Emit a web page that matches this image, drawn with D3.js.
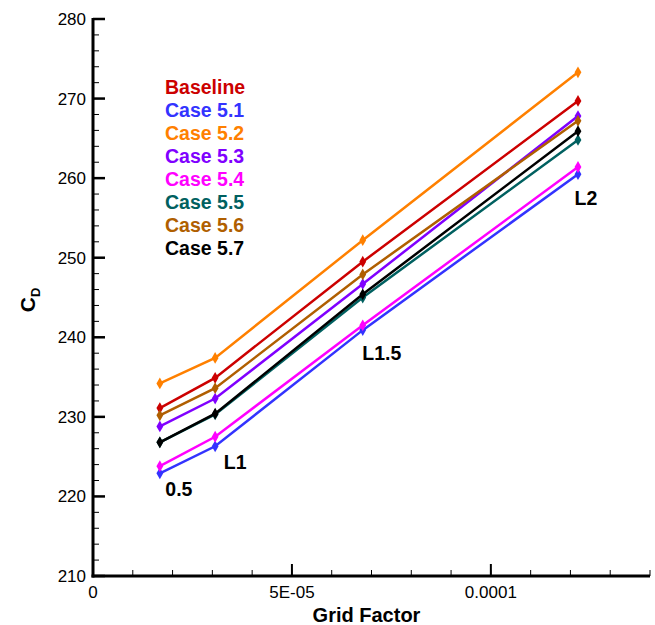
<!DOCTYPE html>
<html><head><meta charset="utf-8">
<script src="https://cdn.jsdelivr.net/npm/d3@7/dist/d3.min.js"></script>
<style>body{margin:0;background:#fff}svg{display:block}text{font-family:"Liberation Sans",Arial,sans-serif}</style>
</head><body><svg id="c" width="655" height="625"></svg>
<script>
const gridFactor = [0.0000168, 0.0000307, 0.0000678, 0.0001219];
const pointLabels = ["0.5", "L1", "L1.5", "L2"];
const seriesNames = ["Baseline","Case 5.1","Case 5.2","Case 5.3","Case 5.4","Case 5.5","Case 5.6","Case 5.7"];
const baseline = [231.1, 234.9, 249.5, 269.7];
const case51 = [222.9, 226.3, 240.9, 260.5];
const case52 = [234.2, 237.4, 252.2, 273.3];
const case53 = [228.8, 232.3, 246.7, 267.8];
const case54 = [223.8, 227.5, 241.5, 261.4];
const case55 = [226.8, 230.3, 245.0, 264.8];
const case56 = [230.2, 233.6, 247.9, 267.2];
const case57 = [226.8, 230.4, 245.4, 265.9];
const seriesColors = ["#CC0000","#3333FF","#FF8000","#8000FF","#FF00FF","#006060","#B05F00","#000000"];
const xTicks = [0, 0.00005, 0.0001];
const xTickLabels = ["0", "5E-05", "0.0001"];
const yTicks = [210, 220, 230, 240, 250, 260, 270, 280];

const allSeries = [baseline, case51, case52, case53, case54, case55, case56, case57];
const svg = d3.select("#c");
const L = 93, R = 650, T = 19, B = 576;
const x = d3.scaleLinear().domain([0, 0.00014]).range([L, R]);
const y = d3.scaleLinear().domain([210, 280]).range([B, T]);

const xMinor = d3.range(0, 0.000140001, 0.00001);
const yMinor = d3.range(210, 280.001, 2);
const g = svg.append("g");
g.selectAll(".xm").data(xMinor).enter().append("line")
  .attr("x1", d => x(d)).attr("x2", d => x(d)).attr("y1", B).attr("y2", B - 6)
  .attr("stroke", "#000").attr("stroke-width", 1);
g.selectAll(".ym").data(yMinor).enter().append("line")
  .attr("y1", d => y(d)).attr("y2", d => y(d)).attr("x1", L).attr("x2", L + 6)
  .attr("stroke", "#000").attr("stroke-width", 1);
g.selectAll(".xM").data(xTicks).enter().append("line")
  .attr("x1", d => x(d)).attr("x2", d => x(d)).attr("y1", B).attr("y2", B - 12)
  .attr("stroke", "#000").attr("stroke-width", 2);
g.selectAll(".yM").data(yTicks).enter().append("line")
  .attr("y1", d => y(d)).attr("y2", d => y(d)).attr("x1", L).attr("x2", L + 12)
  .attr("stroke", "#000").attr("stroke-width", 2.5);
g.append("line").attr("x1", L).attr("x2", L).attr("y1", T - 1).attr("y2", B + 1.5).attr("stroke", "#000").attr("stroke-width", 3);
g.append("line").attr("x1", L - 1.5).attr("x2", R).attr("y1", B).attr("y2", B).attr("stroke", "#000").attr("stroke-width", 3);

g.selectAll(".xl").data(xTicks).enter().append("text")
  .attr("x", d => x(d)).attr("y", B + 22).attr("text-anchor", "middle")
  .attr("font-size", 17).text((d, i) => xTickLabels[i]);
g.selectAll(".yl").data(yTicks).enter().append("text")
  .attr("x", L - 7).attr("y", d => y(d) + 6).attr("text-anchor", "end")
  .attr("font-size", 17).text(d => d);

svg.append("text").attr("x", (L + R) / 2 - 5).attr("y", 622).attr("text-anchor", "middle")
  .attr("font-size", 20).attr("font-weight", "bold").text("Grid Factor");
const yt = svg.append("text").attr("transform", "translate(35,300) rotate(-90)")
  .attr("text-anchor", "middle").attr("font-size", 21).attr("font-weight", "bold");
yt.append("tspan").text("C");
yt.append("tspan").attr("font-size", 13).attr("dy", 5).text("D");

const line = d3.line().x((d, i) => x(gridFactor[i])).y(d => y(d));
allSeries.forEach((s, k) => {
  svg.append("path").datum(s).attr("d", line).attr("fill", "none")
    .attr("stroke", seriesColors[k]).attr("stroke-width", 2.5);
  svg.selectAll(".m" + k).data(s).enter().append("path")
    .attr("d", d3.symbol(d3.symbolDiamond, 40))
    .attr("transform", (d, i) => `translate(${x(gridFactor[i])},${y(d)})`)
    .attr("fill", seriesColors[k]);
});

seriesNames.forEach((n, k) => {
  svg.append("text").attr("x", 165).attr("y", 94 + k * 23)
    .attr("font-size", 19.5).attr("font-weight", "bold")
    .attr("fill", seriesColors[k]).text(n);
});

const lowest = gridFactor.map((g0, i) => d3.min(allSeries, s => s[i]));
const offs = [[19, 23], [20, 23], [19, 30], [8, 31]];
pointLabels.forEach((t, i) => {
  svg.append("text").attr("x", x(gridFactor[i]) + offs[i][0]).attr("y", y(lowest[i]) + offs[i][1])
    .attr("text-anchor", "middle").attr("font-size", 19.5).attr("font-weight", "bold").text(t);
});
</script></body></html>
